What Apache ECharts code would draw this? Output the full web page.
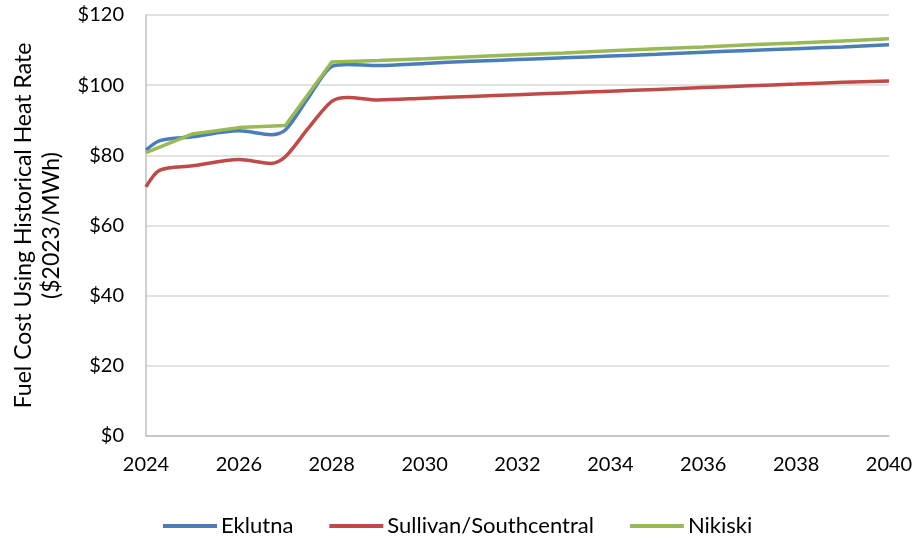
<!DOCTYPE html>
<html>
<head>
<meta charset="utf-8">
<script src="https://cdn.jsdelivr.net/npm/echarts@6/dist/echarts.min.js"></script>
<style>
  html, body { margin: 0; padding: 0; background: #fff; }
  #chart { width: 919px; height: 540px; }
</style>
</head>
<body>
<div id="chart"></div>
<script>
var seriesNames = ['Eklutna', 'Sullivan/Southcentral', 'Nikiski'];
var yearTicks = [2024, 2026, 2028, 2030, 2032, 2034, 2036, 2038, 2040];

// [year, $/MWh]
var eklutna = [
  [2024, 81.5], [2024.3, 84.2], [2025, 85.3], [2026, 87.0], [2026.7, 85.9],
  [2027, 87.2], [2027.5, 96.5], [2028, 105.3], [2028.35, 105.9], [2029, 105.6],
  [2030, 106.2], [2031, 106.8], [2032, 107.3], [2033, 107.8], [2034, 108.3],
  [2035, 108.8], [2036, 109.4], [2037, 109.9], [2038, 110.4], [2039, 110.9],
  [2040, 111.5]
];
var sullivan = [
  [2024, 71.0], [2024.3, 75.8], [2025, 77.0], [2026, 78.8], [2026.7, 77.7],
  [2027, 79.6], [2027.5, 87.8], [2028, 95.4], [2028.35, 96.5], [2029, 95.8],
  [2030, 96.3], [2031, 96.8], [2032, 97.3], [2033, 97.8], [2034, 98.3],
  [2035, 98.8], [2036, 99.3], [2037, 99.8], [2038, 100.3], [2039, 100.8],
  [2040, 101.2]
];
var nikiski = [
  [2024, 80.8], [2025, 86.1], [2026, 87.9], [2027, 88.5], [2028, 106.6],
  [2029, 107.0], [2030, 107.5], [2031, 108.1], [2032, 108.7], [2033, 109.2],
  [2034, 109.8], [2035, 110.4], [2036, 110.9], [2037, 111.5], [2038, 112.0],
  [2039, 112.6], [2040, 113.2]
];

var font = 'Lato, sans-serif';
var chart = echarts.init(document.getElementById('chart'));

chart.setOption({
  animation: false,
  grid: { left: 146, right: 30, top: 15, bottom: 104, outerBoundsMode: 'none', containLabel: false },
  legend: {
    top: 510,
    left: 158,
    itemWidth: 54,
    itemHeight: 4,
    itemGap: 36,
    icon: 'rect',
    textStyle: { fontFamily: font, fontSize: 22, color: '#000', padding: [0, 0, 0, -1] },
    data: seriesNames
  },
  xAxis: {
    type: 'value',
    min: 2024,
    max: 2040,
    interval: 2,
    axisLine: { lineStyle: { color: '#bfbfbf', width: 1.5 } },
    axisTick: { show: false },
    splitLine: { show: false },
    axisLabel: {
      margin: 19,
      fontFamily: font, fontSize: 20, color: '#000',
      formatter: function (v) { return yearTicks.indexOf(v) >= 0 ? String(v) : ''; }
    }
  },
  yAxis: {
    type: 'value',
    min: 0,
    max: 120,
    interval: 20,
    name: 'Fuel Cost Using Historical Heat Rate\n($2023/MWh)',
    nameLocation: 'middle',
    nameGap: 80,
    nameTextStyle: { fontFamily: font, fontSize: 23, color: '#000', lineHeight: 28 },
    axisLine: { show: true, lineStyle: { color: '#bfbfbf', width: 1.5 } },
    axisTick: { show: false },
    splitLine: { lineStyle: { color: '#d9d9d9', width: 1.5 } },
    axisLabel: {
      margin: 22,
      fontFamily: font, fontSize: 20, color: '#000',
      formatter: function (v) { return '$' + v; }
    }
  },
  series: [
    {
      name: seriesNames[0], type: 'line', data: eklutna, smooth: 0.3,
      showSymbol: false, lineStyle: { color: '#4a7ebb', width: 3.5 }, itemStyle: { color: '#4a7ebb' }
    },
    {
      name: seriesNames[1], type: 'line', data: sullivan, smooth: 0.3,
      showSymbol: false, lineStyle: { color: '#be4b48', width: 3.5 }, itemStyle: { color: '#be4b48' }
    },
    {
      name: seriesNames[2], type: 'line', data: nikiski, smooth: false,
      showSymbol: false, lineStyle: { color: '#98b954', width: 3.5 }, itemStyle: { color: '#98b954' }
    }
  ]
});
</script>
</body>
</html>
